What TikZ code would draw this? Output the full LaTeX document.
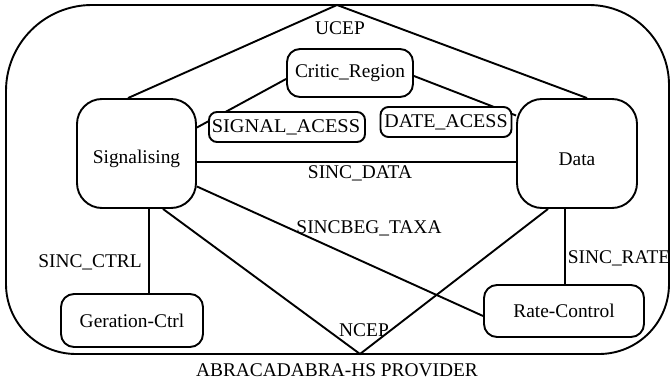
\documentclass[tikz,border=0pt]{standalone}
\usepackage{fontspec}
\setmainfont{Liberation Serif}
\usetikzlibrary{calc}
\begin{document}
\begin{tikzpicture}[x=1pt,y=-1pt,
  every node/.style={font=\fontsize{19.4}{22}\selectfont},
  thick line/.style={line width=1.9pt},
  thin line/.style={line width=1.2pt},
  bigbox/.style={draw,line width=1.9pt,rounded corners=25pt,inner sep=0pt},
  smallbox/.style={draw,line width=1.9pt,rounded corners=13pt,inner sep=0pt},
  labbox/.style={draw,fill=white,line width=1.9pt,rounded corners=8pt,inner sep=0pt},
  lab/.style={inner sep=0pt}]
\useasboundingbox (0,0) rectangle (671,382);
% frame
\draw[thick line,rounded corners=86pt] (337,5) -- (6,5) -- (6,180);
\draw[thick line,rounded corners=70pt] (6,180) -- (6,354) -- (337,354);
\draw[thick line,rounded corners=70pt] (337,354) -- (669,354) -- (669,180);
\draw[thick line,rounded corners=80pt] (669,180) -- (669,5) -- (337,5);
\coordinate (ucep) at (337,5);
\coordinate (ncep) at (360,354);
% nodes
\node[bigbox,minimum width=119pt,minimum height=109pt] (sig) at (136.5,153.5) {};
\node[lab] at (136.5,159) {Signalising};
\node[bigbox,minimum width=120pt,minimum height=109pt] (data) at (577,153.5) {};
\node[lab] at (577,159) {Data};
\node[smallbox,minimum width=126pt,minimum height=48pt] (crit) at (350,73) {Critic\_Region};
\node[smallbox,minimum width=142pt,minimum height=53pt] (gen) at (132,320.5) {Geration-Ctrl};
\node[smallbox,minimum width=160pt,minimum height=52pt] (rate) at (564,311) {Rate-Control};
% connectors
\draw[thick line] ([xshift=-8.5pt]sig.north) -- (ucep) -- ([xshift=10pt]data.north);
\draw[thick line] ([yshift=-6pt]crit.west) -- ([yshift=26pt]sig.east);
\draw[thick line] ([yshift=-3pt]crit.east) -- ([yshift=38pt]data.west);
\draw[thick line] ([yshift=-8.5pt]sig.east) -- ([yshift=-8.5pt]data.west);
\draw[thick line] ([yshift=-33pt]sig.east) -- ([yshift=-5pt]rate.west);
\draw[thick line] ([xshift=26.5pt]sig.south) -- (ncep) -- ([xshift=-29pt]data.south);
\draw[thin line] ([xshift=12.5pt]sig.south) -- ([xshift=17pt]gen.north);
\draw[thin line] ([xshift=-12pt]data.south) -- ([xshift=1pt]rate.north);
% label boxes on lines
\node[labbox,minimum width=156pt,minimum height=30pt] (sacc) at (287,127) {};
\node[lab,xscale=1.05] at (286,127) {SIGNAL\_ACESS};
\node[labbox,minimum width=131pt,minimum height=30pt] (dacc) at (446,122) {};
\node[lab,xscale=1.03] at (446,122) {DATE\_ACESS};
% labels
\node[lab] (lucep) at (340,28) {UCEP};
\node[lab] (ldata) at (360,173) {SINC\_DATA};
\node[lab] (ltaxa) at (369,228) {SINCBEG\_TAXA};
\node[lab] (lctrl) at (90,262) {SINC\_CTRL};
\node[lab] (lrate) at (619,258) {SINC\_RATE};
\node[lab] (lncep) at (364,330) {NCEP};
\node[lab] (lprov) at (337,370) {ABRACADABRA-HS PROVIDER};
\end{tikzpicture}
\end{document}
